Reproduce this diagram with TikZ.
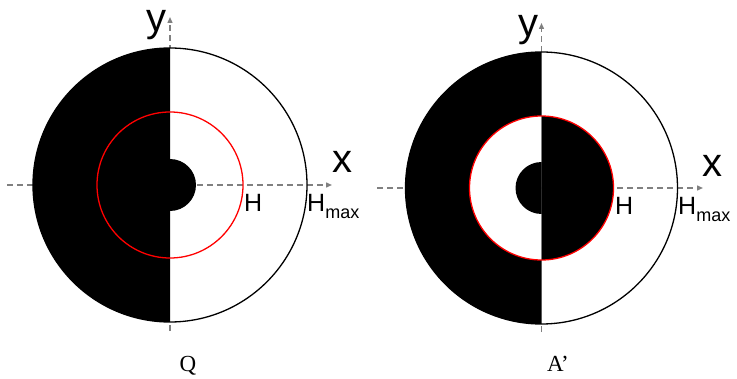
\documentclass[tikz,border=0pt]{standalone}
\usepackage{fontspec}
\setmainfont{Liberation Serif}
\newfontfamily\arialf{Liberation Sans}
\usetikzlibrary{arrows.meta}
\tikzset{
  axis/.style={draw=gray, line width=1.4pt, dash pattern=on 6pt off 4pt, -{Triangle[length=6pt,width=5pt]}},
  rim/.style={draw=black, line width=1.3pt},
  redring/.style={draw=red, line width=1.3pt},
  biglbl/.style={inner sep=0pt, anchor=base, font=\arialf\fontsize{40}{40}\selectfont},
  hlbl/.style={inner sep=0pt, anchor=base west, font=\arialf\fontsize{25}{25}\selectfont},
  caplbl/.style={inner sep=0pt, anchor=base, font=\fontsize{23}{23}\selectfont}
}
\newcommand{\subsm}{\raisebox{-7pt}{\fontsize{18}{18}\selectfont max}}
\begin{document}
\begin{tikzpicture}[x=1pt,y=1pt]
\useasboundingbox (0,0) rectangle (737,378);
% ---------------- left diagram ----------------
\coordinate (c1) at (170,193);
\coordinate (h1a) at (7,193);
\coordinate (h1b) at (332,193);
\coordinate (v1a) at (170,47);
\coordinate (v1b) at (170,361);
\draw[axis] (v1a) -- (v1b);
\fill[white] (c1) circle[radius=137];
\draw[axis] (h1a) -- (h1b);
\fill[black] (c1) ++(0,137) arc[start angle=90, end angle=270, radius=137] -- cycle;
\fill[black] (c1) ++(0,26) arc[start angle=90, end angle=-90, radius=26] -- cycle;
\draw[rim] (c1) circle[radius=137];
\draw[redring] (c1) circle[radius=73];
\node[biglbl] (y1) at (156,346) {y};
\node[biglbl] (x1) at (342,205) {x};
\node[hlbl] (H1) at (244,166) {H};
\node[hlbl] (Hm1) at (307,166) {H\subsm};
\node[caplbl] (Q) at (188,7) {Q};
% ---------------- right diagram ----------------
\coordinate (c2) at (541.5,190);
\coordinate (h2a) at (377,190);
\coordinate (h2b) at (703,190);
\coordinate (v2a) at (541.5,46);
\coordinate (v2b) at (541.5,355);
\draw[axis] (v2a) -- (v2b);
\fill[white] (c2) circle[radius=136];
\draw[axis] (h2a) -- (h2b);
\fill[black] (c2) ++(0,136) arc[start angle=90, end angle=270, radius=136] -- cycle;
\fill[white] (c2) ++(0,72) arc[start angle=90, end angle=270, radius=72] -- cycle;
\fill[black] (c2) ++(0,72) arc[start angle=90, end angle=-90, radius=72] -- cycle;
\fill[black] (c2) ++(0,26) arc[start angle=90, end angle=270, radius=26] -- cycle;
\draw[rim] (c2) circle[radius=136];
\draw[redring] (c2) circle[radius=72];
\node[biglbl] (y2) at (528,341) {y};
\node[biglbl] (x2) at (712,201) {x};
\node[hlbl] (H2) at (615,163) {H};
\node[hlbl] (Hm2) at (678,163) {H\subsm};
\node[caplbl] (A) at (558,7) {A’};
\end{tikzpicture}
\end{document}
